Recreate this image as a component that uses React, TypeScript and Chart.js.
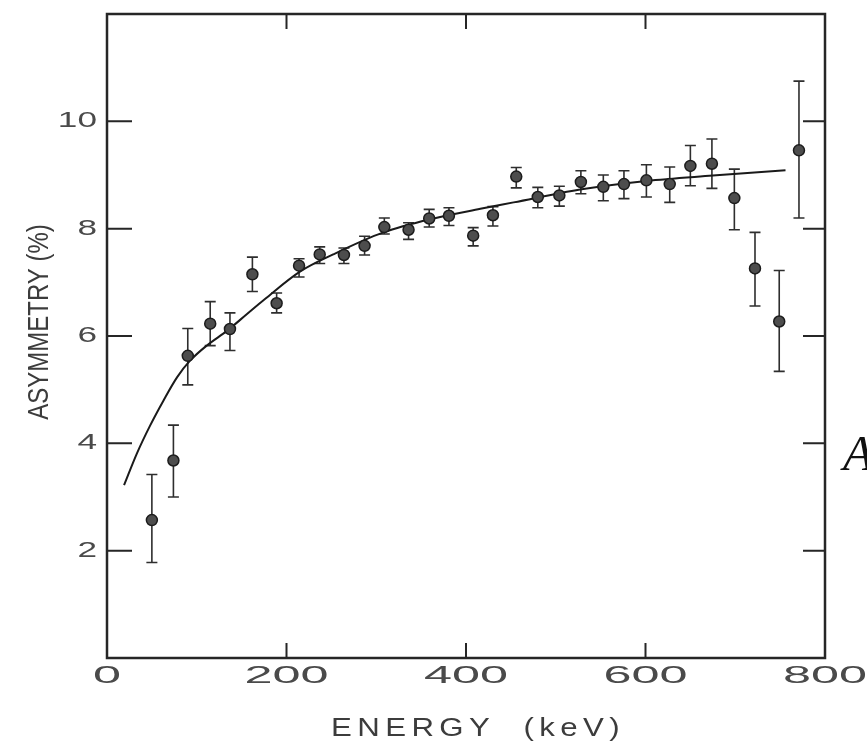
import React, { useEffect, useRef } from "react";
import { Chart, registerables } from "chart.js";

Chart.register(...registerables);

// Measured data points (energy in keV, asymmetry in %)
const energy = [50, 74, 90, 115, 137, 162, 189, 214, 237, 264, 287, 309, 336, 359, 381, 408, 430, 456, 480, 504, 528, 553, 576, 601, 627, 650, 674, 699, 722, 749, 771];
const asymmetry = [2.57, 3.68, 5.63, 6.23, 6.13, 7.15, 6.61, 7.31, 7.52, 7.51, 7.68, 8.03, 7.98, 8.19, 8.24, 7.87, 8.25, 8.97, 8.59, 8.62, 8.87, 8.78, 8.83, 8.9, 8.83, 9.17, 9.21, 8.57, 7.26, 6.27, 9.46];
const errLow = [1.78, 3.0, 5.09, 5.82, 5.73, 6.83, 6.43, 7.1, 7.35, 7.35, 7.51, 7.9, 7.8, 8.03, 8.06, 7.68, 8.05, 8.76, 8.39, 8.42, 8.65, 8.52, 8.56, 8.59, 8.49, 8.8, 8.75, 7.98, 6.56, 5.34, 8.2];
const errHigh = [3.42, 4.34, 6.14, 6.64, 6.43, 7.47, 6.8, 7.44, 7.66, 7.64, 7.86, 8.2, 8.11, 8.36, 8.39, 8.02, 8.41, 9.14, 8.77, 8.79, 9.08, 9.0, 9.08, 9.19, 9.15, 9.55, 9.67, 9.11, 7.93, 7.22, 10.75];

// Fitted curve
const fitEnergy = [19, 33, 48, 63, 78, 92.5, 111, 134, 156, 176, 215, 252, 308, 364, 416, 453, 527, 601, 675, 756];
const fitAsymmetry = [3.22, 3.8, 4.33, 4.8, 5.23, 5.54, 5.82, 6.1, 6.41, 6.69, 7.2, 7.52, 7.93, 8.19, 8.37, 8.49, 8.73, 8.89, 8.99, 9.09];

// Axes
const xTicks = [0, 200, 400, 600, 800];
const xInnerTicks = [200, 400, 600];
const yTicks = [2, 4, 6, 8, 10];
const xTitle = "ENERGY  (keV)";
const yTitle = "ASYMMETRY (%)";
const sideLetter = "A";

const decorPlugin = {
  id: "decor",
  beforeDatasetsDraw(chart: any) {
    const { ctx, scales } = chart;
    const x = scales.x;
    const y = scales.y;
    ctx.save();
    ctx.strokeStyle = "#2e2e2e";
    ctx.lineWidth = 1.6;
    energy.forEach((e, i) => {
      const px = x.getPixelForValue(e);
      const lo = y.getPixelForValue(errLow[i]);
      const hi = y.getPixelForValue(errHigh[i]);
      ctx.beginPath();
      ctx.moveTo(px, lo);
      ctx.lineTo(px, hi);
      ctx.moveTo(px - 5.5, lo);
      ctx.lineTo(px + 5.5, lo);
      ctx.moveTo(px - 5.5, hi);
      ctx.lineTo(px + 5.5, hi);
      ctx.stroke();
    });
    ctx.restore();
  },
  afterDraw(chart: any) {
    const { ctx, chartArea, scales } = chart;
    const x = scales.x;
    const y = scales.y;
    const { left, right, top, bottom } = chartArea;
    ctx.save();
    // frame
    ctx.strokeStyle = "#262626";
    ctx.lineWidth = 2.5;
    ctx.strokeRect(left, top, right - left, bottom - top);
    // inward ticks
    ctx.lineWidth = 2;
    ctx.beginPath();
    xInnerTicks.forEach((v) => {
      const px = x.getPixelForValue(v);
      ctx.moveTo(px, top);
      ctx.lineTo(px, top + 15);
      ctx.moveTo(px, bottom);
      ctx.lineTo(px, bottom - 15);
    });
    yTicks.forEach((v) => {
      const py = y.getPixelForValue(v);
      ctx.moveTo(left, py);
      ctx.lineTo(left + 25, py);
      ctx.moveTo(right, py);
      ctx.lineTo(right - 22, py);
    });
    ctx.stroke();

    // tick labels
    ctx.fillStyle = "#4a4a4a";
    ctx.textBaseline = "middle";
    ctx.font = "22px 'Liberation Sans', Arial, sans-serif";
    ctx.textAlign = "right";
    yTicks.forEach((v) => {
      const py = y.getPixelForValue(v);
      ctx.save();
      ctx.translate(left - 10, py);
      ctx.scale(1.6, 1);
      ctx.fillText(String(v), 0, 0);
      ctx.restore();
    });
    ctx.font = "24px 'Liberation Sans', Arial, sans-serif";
    ctx.textAlign = "center";
    xTicks.forEach((v) => {
      const px = x.getPixelForValue(v);
      ctx.save();
      ctx.translate(px, bottom + 18);
      ctx.scale(2.1, 1);
      ctx.fillText(String(v), 0, 0);
      ctx.restore();
    });

    // axis titles
    ctx.fillStyle = "#3c3c3c";
    ctx.save();
    ctx.translate(40, 322);
    ctx.scale(1.2, 1);
    ctx.rotate(-Math.PI / 2);
    ctx.font = "24px 'Liberation Sans', Arial, sans-serif";
    ctx.textAlign = "center";
    ctx.fillText(yTitle, 0, 0);
    ctx.restore();

    ctx.save();
    ctx.translate(478, 729);
    ctx.scale(1.2, 1);
    ctx.font = "26px 'Liberation Sans', Arial, sans-serif";
    (ctx as any).letterSpacing = "4.5px";
    ctx.textAlign = "center";
    ctx.fillText(xTitle, 0, 0);
    (ctx as any).letterSpacing = "0px";
    ctx.restore();

    // partial letter at right edge
    ctx.fillStyle = "#111";
    ctx.font = "italic 50px 'Liberation Serif', 'Times New Roman', serif";
    ctx.textAlign = "left";
    ctx.textBaseline = "alphabetic";
    ctx.fillText(sideLetter, 843, 470);
    ctx.restore();
  },
};

export default function App() {
  const canvasRef = useRef<HTMLCanvasElement | null>(null);

  useEffect(() => {
    const canvas = canvasRef.current;
    if (!canvas) return;
    const chart = new Chart(canvas, {
      type: "scatter",
      data: {
        datasets: [
          {
            label: "fit",
            data: fitEnergy.map((e, i) => ({ x: e, y: fitAsymmetry[i] })),
            showLine: true,
            borderColor: "#1a1a1a",
            borderWidth: 2,
            pointRadius: 0,
            cubicInterpolationMode: "monotone",
            order: 2,
          } as any,
          {
            label: "data",
            data: energy.map((e, i) => ({ x: e, y: asymmetry[i] })),
            backgroundColor: "#4d4d4d",
            borderColor: "#1c1c1c",
            borderWidth: 1.5,
            pointRadius: 5.5,
            order: 1,
          },
        ],
      },
      options: {
        animation: false,
        responsive: true,
        maintainAspectRatio: false,
        layout: { padding: { left: 107, right: 42, top: 14, bottom: 84 } },
        plugins: {
          legend: { display: false },
          tooltip: { enabled: false },
        },
        scales: {
          x: { type: "linear", min: 0, max: 800, display: false },
          y: { type: "linear", min: 0, max: 12, display: false },
        },
      },
      plugins: [decorPlugin],
    });
    return () => chart.destroy();
  }, []);

  return (
    <div
      style={{
        position: "absolute",
        left: 0,
        top: 0,
        width: 867,
        height: 742,
        background: "#fff",
        overflow: "hidden",
      }}
    >
      <canvas ref={canvasRef} />
    </div>
  );
}
